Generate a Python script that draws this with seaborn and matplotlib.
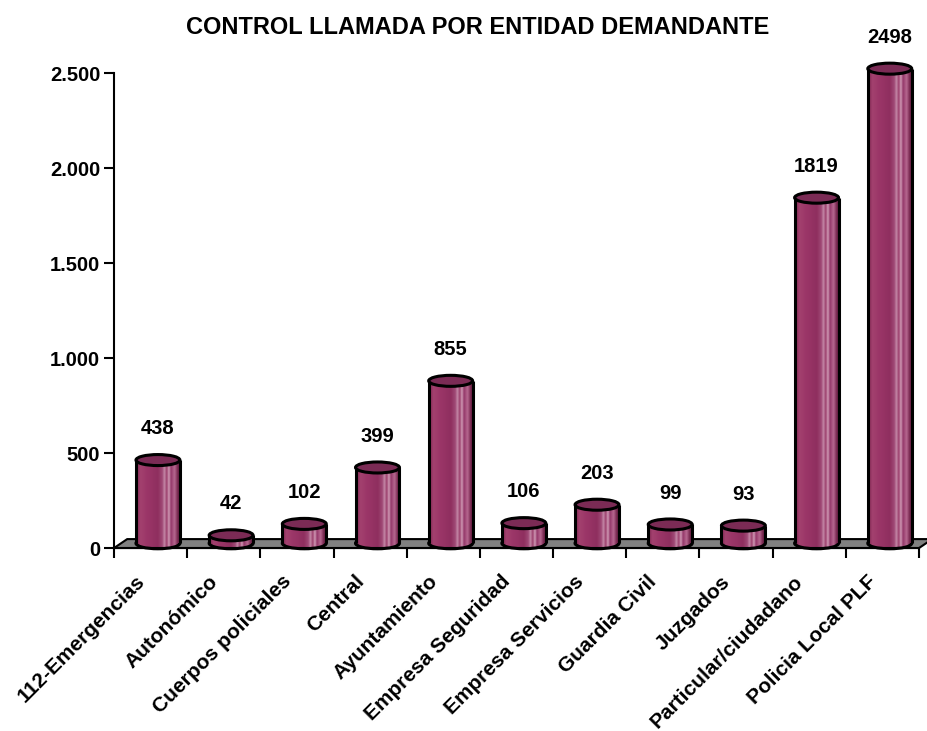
import numpy as np
import pandas as pd
import matplotlib
matplotlib.use("Agg")
import matplotlib.pyplot as plt
import matplotlib.transforms as mtransforms
import seaborn as sns
from matplotlib.patches import Ellipse, Polygon
from matplotlib.colors import LinearSegmentedColormap
from matplotlib.ticker import FuncFormatter, FixedLocator

# Data
categories = ["112-Emergencias", "Autonómico", "Cuerpos policiales", "Central",
              "Ayuntamiento", "Empresa Seguridad", "Empresa Servicios",
              "Guardia Civil", "Juzgados", "Particular/ciudadano",
              "Policia Local PLF"]
values = [438, 42, 102, 399, 855, 106, 203, 99, 93, 1819, 2498]
y_ticks = [0, 500, 1000, 1500, 2000, 2500]
title = "CONTROL LLAMADA POR ENTIDAD DEMANDANTE"

df = pd.DataFrame({"entidad": categories, "llamadas": values})

sns.set_theme(style="white")
plt.rcParams["font.family"] = ["Liberation Sans", "DejaVu Sans"]
plt.rcParams["text.color"] = "black"
plt.rcParams["xtick.color"] = "black"
plt.rcParams["ytick.color"] = "black"
plt.rcParams["axes.labelcolor"] = "black"

fig = plt.figure(figsize=(9.27, 7.31), dpi=100)
ax = fig.add_axes([0.123, 0.2503, 0.8684, 0.6498])

sns.barplot(data=df, x="entidad", y="llamadas", color="#993366",
            saturation=1, width=0.6, ax=ax)
bars = list(ax.patches)

# fake 3D depth (data units)
dx, dy = 0.1, 25
floor_dx, floor_dy = 0.18, 47
ell_h = 58

# cylinder shading
cyl_cmap = LinearSegmentedColormap.from_list("cyl", [
    (0.0, "#7d2750"), (0.1, "#a3416f"), (0.25, "#9b3668"), (0.5, "#8f2f5f"),
    (0.6, "#a04a76"), (0.65, "#c58aa8"), (0.7, "#9a3d6b"), (0.75, "#d09ab5"),
    (0.8, "#94386a"), (0.88, "#b76890"), (0.95, "#7a2a52"), (1.0, "#5e1a3c")])
grad = np.linspace(0, 1, 200)[None, :]

# floor
floor = Polygon([(-0.5, 0), (10.5, 0), (10.5 + floor_dx, floor_dy),
                 (-0.5 + floor_dx, floor_dy)], closed=True,
                facecolor="#808080", edgecolor="black", lw=1.5,
                zorder=1, clip_on=False)
ax.add_patch(floor)

for p, v in zip(bars, values):
    x0 = p.get_x() + dx
    w = p.get_width()
    h = p.get_height()
    cx = x0 + w / 2
    p.set_x(x0)
    p.set_y(dy)
    p.set_edgecolor("none")
    p.set_zorder(3)
    p.set_clip_on(False)

    # bottom of cylinder
    bot = Ellipse((cx, dy), w, ell_h, facecolor="#993366", edgecolor="none",
                  zorder=2.5, clip_on=False)
    ax.add_patch(bot)
    im_b = ax.imshow(grad, extent=(x0, x0 + w, dy - ell_h / 2, dy + ell_h / 2),
                     aspect="auto", cmap=cyl_cmap, zorder=2.6,
                     interpolation="bilinear")
    im_b.set_clip_path(bot)
    im_b.clipbox = None
    ax.add_patch(Ellipse((cx, dy), w, ell_h, facecolor="none",
                         edgecolor="black", lw=2.2, zorder=2.7, clip_on=False))

    # body
    im = ax.imshow(grad, extent=(x0, x0 + w, dy, dy + h), aspect="auto",
                   cmap=cyl_cmap, zorder=3.1, interpolation="bilinear")
    im.set_clip_on(False)
    ax.plot([x0, x0], [dy, dy + h], color="black", lw=2.2, zorder=4,
            clip_on=False, solid_capstyle="butt")
    ax.plot([x0 + w, x0 + w], [dy, dy + h], color="black", lw=2.2, zorder=4,
            clip_on=False, solid_capstyle="butt")

    # top of cylinder
    ax.add_patch(Ellipse((cx, dy + h), w, ell_h, facecolor="#7b2b55",
                         edgecolor="black", lw=2.2, zorder=5, clip_on=False))

    ax.text(cx, dy + h + 165, str(v), ha="center", va="center",
            fontsize=14.5, fontweight="bold", color="black", clip_on=False)

ax.set_xlim(-0.5, 10.5)
ax.set_ylim(0, 2500)

# axes styling
sns.despine(ax=ax)
for s in ["left", "bottom"]:
    ax.spines[s].set_color("black")
    ax.spines[s].set_linewidth(1.5)
ax.spines["bottom"].set_zorder(6)

ax.set_xlabel("")
ax.set_ylabel("")
ax.set_yticks(y_ticks)
ax.yaxis.set_major_formatter(FuncFormatter(lambda v, pos: f"{int(v):,}".replace(",", ".")))
ax.tick_params(axis="y", left=True, direction="out", length=7, width=1.5,
               color="black", labelsize=14.5, pad=3)
for lab in ax.get_yticklabels():
    lab.set_fontweight("bold")

ax.set_xticks(range(len(categories)))
ax.set_xticklabels(categories, rotation=45, ha="right", va="center",
                   rotation_mode="anchor", fontsize=15, fontweight="bold")
ax.xaxis.set_minor_locator(FixedLocator(np.arange(-0.5, len(categories), 1)))
ax.tick_params(axis="x", which="major", bottom=True, length=0, pad=22)
ax.tick_params(axis="x", which="minor", bottom=True, direction="out",
               length=7, width=1.5, color="black")
shift = mtransforms.ScaledTranslation(-9 / 100, 0, fig.dpi_scale_trans)
for lab in ax.get_xticklabels():
    lab.set_transform(lab.get_transform() + shift)

fig.text(0.515, 0.963, title, ha="center", va="center",
         fontsize=17, fontweight="bold")

fig.savefig("out.png", dpi=100)
